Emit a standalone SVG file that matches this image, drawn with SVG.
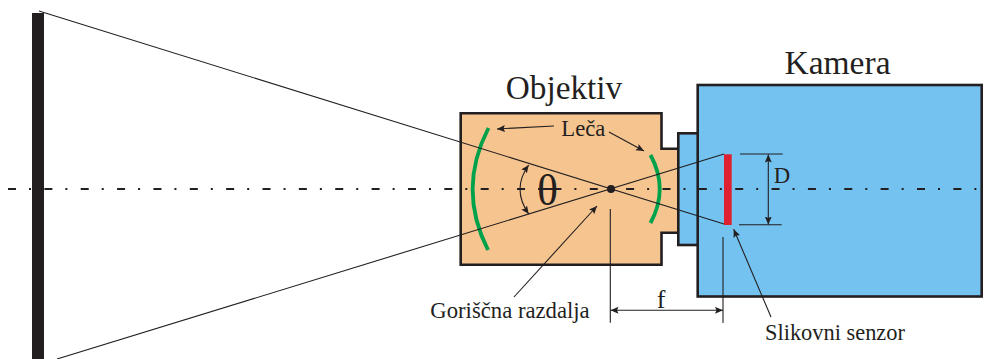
<svg xmlns="http://www.w3.org/2000/svg" width="989" height="359" viewBox="0 0 989 359">
<defs>
<marker id="a" markerUnits="userSpaceOnUse" markerWidth="10" markerHeight="8" refX="8" refY="3.5" orient="auto-start-reverse"><path d="M0 0L8 3.5L0 7L1.500 3.500Z" fill="#231f20"/></marker>
</defs>
<style>
.t{font-family:"Liberation Serif",serif;fill:#231f20}
.o{stroke:#231f20;stroke-width:2.600;stroke-linejoin:miter}
.l{fill:none;stroke:#231f20;stroke-width:1.100}
.g{fill:none;stroke:#00a14b;stroke-width:3.800}
</style>
<g id="screen"><rect x="32" y="13" width="12" height="346" fill="#231f20"/></g>
<g id="objektiv">
<path class="o" fill="#f5c48f" d="M460.700 113.300H661.500V148.700H678.300V232.700H661.500V264.700H460.700Z"/>
<path class="g" d="M488.500 128Q457 189 488 250"/>
<path class="g" d="M650.500 155Q669 189 650.500 223"/>
<text class="t" x="564" y="98.500" font-size="33.300" text-anchor="middle">Objektiv</text>
<text class="t" x="583.300" y="136" font-size="22.600" text-anchor="middle">Leča</text>
</g>
<g id="kamera">
<rect class="o" x="678.300" y="133.300" width="20" height="111.700" fill="#73c2f0"/>
<rect class="o" x="697.700" y="85" width="284" height="211.500" fill="#73c2f0"/>
<rect x="724" y="154.300" width="7.700" height="70.700" fill="#df2030"/>
<text class="t" x="837.500" y="73.500" font-size="33.500" text-anchor="middle">Kamera</text>
<text class="t" x="782" y="182.700" font-size="22.700" text-anchor="middle">D</text>
</g>
<g id="connectors">
<path fill="none" stroke="#231f20" stroke-width="2" stroke-dasharray="8 13 2 13.360" d="M8 189H979"/>
<circle cx="611" cy="189" r="4" fill="#231f20"/>
<path class="l" d="M39 11L724 224M57 359L724 154"/>
<path class="l" d="M528.700 165Q511.300 189 528.700 214" marker-start="url(#a)" marker-end="url(#a)"/>
<path class="l" d="M554 126L497 129" marker-end="url(#a)"/>
<path class="l" d="M609 132L644 151" marker-end="url(#a)"/>
<path class="l" d="M514 297L597 206" marker-end="url(#a)"/>
<path class="l" d="M610.300 209V322.700M723 237V323"/>
<path class="l" d="M610.500 310.300H723" marker-start="url(#a)" marker-end="url(#a)"/>
<path class="l" d="M740 154H782.700M739 224.700H781.700"/>
<path class="l" d="M768.300 154.500V224.500" marker-start="url(#a)" marker-end="url(#a)"/>
<path class="l" d="M771 317L733.700 229.300" marker-end="url(#a)"/>
</g>
<g id="labels">
<text class="t" x="547.500" y="204.500" font-size="44" text-anchor="middle">θ</text>
<text class="t" x="510" y="317.700" font-size="22.700" text-anchor="middle">Goriščna razdalja</text>
<text class="t" x="661" y="307.700" font-size="26" text-anchor="middle">f</text>
<text class="t" x="835" y="340" font-size="22.400" text-anchor="middle">Slikovni senzor</text>
</g>
</svg>
